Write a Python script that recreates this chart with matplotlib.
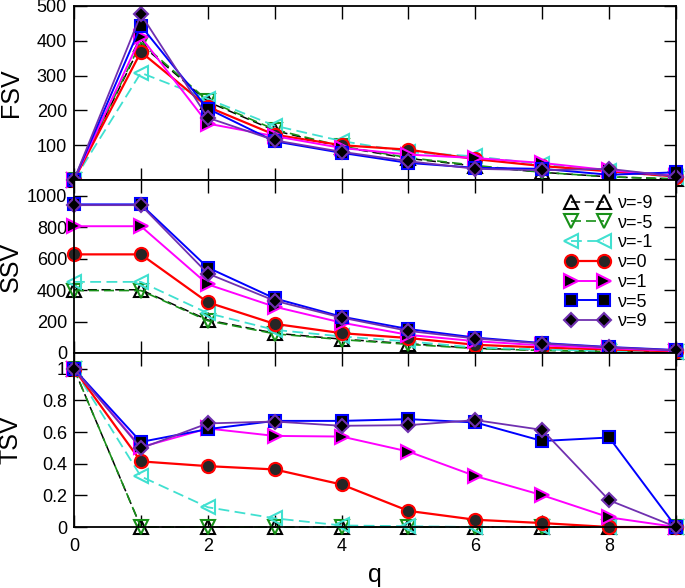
import matplotlib
matplotlib.use('Agg')
import matplotlib.pyplot as plt
from matplotlib.ticker import MultipleLocator, FuncFormatter

plt.rcParams['font.family'] = ['Liberation Sans', 'DejaVu Sans']

# data
q = [0, 1, 2, 3, 4, 5, 6, 7, 8, 9]
nu_labels = ['ν=-9', 'ν=-5', 'ν=-1', 'ν=0', 'ν=1', 'ν=5', 'ν=9']

fsv_m9 = [0, 390, 225, 142, 95, 62, 40, 22, 9, 3]
fsv_m5 = [0, 395, 228, 145, 97, 64, 42, 22, 9, 3]
fsv_m1 = [0, 308, 233, 156, 112, 80, 68, 45, 25, 8]
fsv_0 = [0, 368, 210, 130, 100, 87, 60, 40, 25, 10]
fsv_1 = [0, 411, 162, 126, 92, 73, 63, 49, 28, 12]
fsv_5 = [0, 443, 205, 111, 78, 49, 35, 32, 15, 22]
fsv_9 = [0, 476, 179, 114, 81, 54, 32, 28, 32, 10]

ssv_m9 = [402, 402, 210, 126, 88, 59, 30, 18, 10, 5]
ssv_m5 = [397, 397, 205, 122, 85, 55, 28, 16, 9, 4]
ssv_m1 = [452, 452, 253, 147, 105, 73, 35, 22, 12, 5]
ssv_0 = [627, 627, 322, 185, 126, 95, 52, 35, 22, 10]
ssv_1 = [806, 806, 436, 294, 193, 115, 75, 48, 30, 14]
ssv_5 = [945, 945, 543, 347, 231, 152, 98, 63, 38, 19]
ssv_9 = [940, 940, 505, 332, 225, 140, 92, 60, 36, 17]

tsv_m9 = [1, 0, 0, 0, 0, 0, 0, 0, 0, 0]
tsv_m5 = [1, 0, 0, 0, 0, 0, 0, 0, 0, 0]
tsv_m1 = [1, 0.32, 0.125, 0.055, 0.01, 0.005, 0, 0, 0, 0]
tsv_0 = [1, 0.415, 0.385, 0.364, 0.269, 0.102, 0.046, 0.025, 0, 0]
tsv_1 = [1, 0.505, 0.623, 0.576, 0.572, 0.477, 0.322, 0.201, 0.061, 0]
tsv_5 = [1, 0.538, 0.619, 0.671, 0.671, 0.682, 0.661, 0.544, 0.566, 0]
tsv_9 = [1, 0.498, 0.655, 0.667, 0.640, 0.644, 0.676, 0.614, 0.169, 0]

fsv = [fsv_m9, fsv_m5, fsv_m1, fsv_0, fsv_1, fsv_5, fsv_9]
ssv = [ssv_m9, ssv_m5, ssv_m1, ssv_0, ssv_1, ssv_5, ssv_9]
tsv = [tsv_m9, tsv_m5, tsv_m1, tsv_0, tsv_1, tsv_5, tsv_9]

# styles: color, marker, face, markersize, linestyle, linewidth
styles = [
    ('black', '^', 'none', 9.5, (0, (6, 3)), 1.1),
    ('#189018', 'v', 'none', 9.5, (0, (6, 3)), 1.2),
    ('#40e0d0', '<', 'none', 9.5, (0, (6, 3)), 1.3),
    ('red', 'o', '#262626', 9.5, '-', 1.6),
    ('magenta', '>', 'black', 10, '-', 1.4),
    ('blue', 's', 'black', 9, '-', 1.4),
    ('#7030b0', 'D', 'black', 7.5, '-', 1.3),
]

fig = plt.figure(figsize=(6.85, 5.88), dpi=100)
left, width = 0.108, 0.879
ax1 = fig.add_axes([left, 0.6939, width, 0.2959])
ax2 = fig.add_axes([left, 0.3997, width, 0.2942])
ax3 = fig.add_axes([left, 0.1037, width, 0.2959])

def fmt(v, pos):
    if abs(v - round(v)) < 1e-9:
        return '%d' % round(v)
    return ('%.1f' % v)

for ax, series in [(ax1, fsv), (ax2, ssv), (ax3, tsv)]:
    for vals, lab, (c, m, fc, ms, ls, lw) in zip(series, nu_labels, styles):
        ax.plot(q, vals, color=c, marker=m, markerfacecolor=fc, markeredgecolor=c,
                markersize=ms, markeredgewidth=1.5, linestyle=ls, linewidth=lw,
                label=lab, clip_on=False)
    ax.set_xlim(0, 9)
    ax.xaxis.set_major_locator(MultipleLocator(1))
    ax.tick_params(direction='in', top=True, right=True, length=9, width=1,
                   labelsize=13, pad=5)
    ax.tick_params(axis='x', pad=8)
    for sp in ax.spines.values():
        sp.set_linewidth(1.3)
    ax.yaxis.set_major_formatter(FuncFormatter(fmt))

ax1.set_ylim(0, 500)
ax1.set_yticks([100, 200, 300, 400, 500])
ax2.set_ylim(0, 1100)
ax2.set_yticks([0, 200, 400, 600, 800, 1000])
ax3.set_ylim(0, 1.1)
ax3.set_yticks([0, 0.2, 0.4, 0.6, 0.8, 1.0])

ax1.tick_params(labelbottom=False)
ax2.tick_params(labelbottom=False)
ax3.xaxis.set_major_formatter(FuncFormatter(lambda v, p: '%d' % v if int(round(v)) % 2 == 0 else ''))

ax1.set_ylabel('FSV', fontsize=18)
ax2.set_ylabel('SSV', fontsize=18)
ax3.set_ylabel('TSV', fontsize=18)
for ax in (ax1, ax2, ax3):
    ax.yaxis.set_label_coords(-0.085, 0.5)
ax3.set_xlabel('q', fontsize=18, labelpad=6)

ax2.legend(loc='upper right', bbox_to_anchor=(0.975, 0.955), frameon=False,
           numpoints=2, fontsize=13, handlelength=2.4, handletextpad=0.5,
           labelspacing=0.15, borderaxespad=0)

fig.savefig('out.png', dpi=100)
